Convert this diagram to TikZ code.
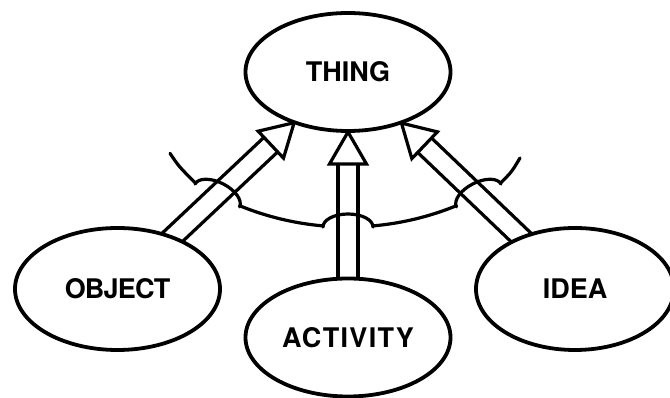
\documentclass[tikz,border=0pt]{standalone}
\usepackage{fontspec}
\setmainfont{TeX Gyre Heros}
\usetikzlibrary{shapes.geometric,calc,backgrounds}

% hollow "is-a" arrow: #1 = start point, #2 = tip
\newcommand\isaarrow[2]{%
  \coordinate (hb) at ($(#2)!32pt!(#1)$);
  \draw[isa] ($(hb)!18.5pt!90:(#2)$) -- (#2) -- ($(hb)!18.5pt!-90:(#2)$) -- cycle;
  \draw[isa] ($(hb)!10pt!90:(#2)$) -- ($(#1)!10pt!90:(#2)$);
  \draw[isa] ($(hb)!10pt!-90:(#2)$) -- ($(#1)!10pt!-90:(#2)$);
}

\begin{document}
\begin{tikzpicture}[x=1pt,y=1pt,
  concept/.style={ellipse, draw, line width=3.8pt, fill=white, inner sep=0pt,
    font=\fontsize{27}{30}\selectfont\bfseries},
  isa/.style={line width=3.2pt, line join=miter},
  partition/.style={line width=3.2pt, line cap=round, line join=round},
  hump/.pic={\draw[partition] (-25,0) arc[start angle=180, end angle=0, x radius=25, y radius=13];}
]
\useasboundingbox (0,0) rectangle (670,398);

% concepts
\node[concept, minimum width=205pt, minimum height=118pt] (thing)    at (348,326)   {THING};
\node[concept, minimum width=205pt, minimum height=122pt] (object)   at (117.5,109) {\addfontfeature{LetterSpace=-3}OBJECT};
\node[concept, minimum width=205pt, minimum height=118pt] (activity) at (348,60.5)  {\addfontfeature{LetterSpace=5}ACTIVITY};
\node[concept, minimum width=198pt, minimum height=122pt] (idea)     at (575,109)   {IDEA};

% arrow tips on the border of THING
\coordinate (tipO) at ($(thing.center)!74pt!(object.center)$);
\coordinate (tipA) at ($(thing.center)!60pt!(activity.center)$);
\coordinate (tipI) at ($(thing.center)!74pt!(idea.center)$);

% centre of the partition arc
\coordinate (pc) at (348,458);

\begin{pgfonlayer}{background}
  \isaarrow{object.center}{tipO}
  \isaarrow{activity.center}{tipA}
  \isaarrow{idea.center}{tipI}

  % partition arc with hops over the arrows
  \draw[partition] ($(pc)+(247.9:287pt)$) arc[start angle=247.9, end angle=265, radius=287pt];
  \draw[partition] ($(pc)+(275:287pt)$) arc[start angle=275, end angle=292.1, radius=287pt];
  \pic[rotate=-27.1] at ($(pc)+(242.9:287pt)$) {hump};
  \pic at ($(pc)+(270:287pt)$) {hump};
  \pic[rotate=27.1] at ($(pc)+(297.1:287pt)$) {hump};

  % curled ends
  \draw[partition] ($(pc)+(237.9:287pt)$) .. controls (178.7,231.7) .. (170,244.7);
  \draw[partition] ($(pc)+(302.1:287pt)$) .. controls (511.8,226.2) .. (520,240);
\end{pgfonlayer}
\end{tikzpicture}
\end{document}
